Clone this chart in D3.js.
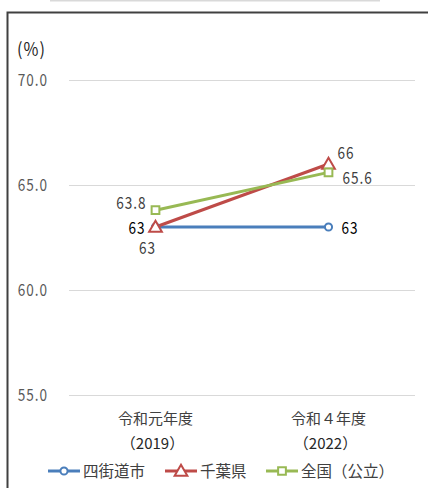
<!DOCTYPE html>
<html><head><meta charset="utf-8">
<script src="https://cdn.jsdelivr.net/npm/d3@7"></script>
<style>
body{margin:0;background:#fff;}
svg{display:block;font-family:"Noto Sans CJK JP","Noto Sans",sans-serif;}
</style></head>
<body><svg id="c" width="428" height="488"></svg>
<script>
const categories = ["令和元年度", "令和４年度"];
const categoryYears = ["（2019）", "（2022）"];
const seriesNames = ["四街道市", "千葉県", "全国（公立）"];
const yotsukaido = [63, 63];
const chiba = [63, 66];
const zenkoku = [63.8, 65.6];
const yTicks = [55, 60, 65, 70];
const yTickLabels = ["55.0", "60.0", "65.0", "70.0"];
const dataLabels = [["63", "63"], ["63", "66"], ["63.8", "65.6"]];

const colors = ["#4A7EBB", "#BE4B48", "#98B954"];
const svg = d3.select("#c");

// condensed text helper
function ctext(t, xx, yy, anchor, fill, size, sx){
  const g = svg.append("g").attr("transform",`translate(${xx},${yy}) scale(${sx||0.8},1)`);
  g.append("text").attr("text-anchor",anchor).attr("font-size",size||17).attr("fill",fill)
   .attr("letter-spacing","1.2").text(t);
  return g;
}

// frame
svg.append("line").attr("x1",50).attr("x2",380).attr("y1",0.5).attr("y2",0.5).attr("stroke","#d9d9d9").attr("stroke-width",2);
svg.append("path").attr("d","M7.5,488 V12.5 H428").attr("fill","none").attr("stroke","#404040").attr("stroke-width",2);

const x = d3.scaleBand().domain(categories).range([69, 415]);
const y = d3.scaleLinear().domain([55, 70]).range([395, 80]);
const cx = c => x(c) + x.bandwidth()/2;

// grid
svg.append("g").selectAll("line").data(yTicks).join("line")
  .attr("x1",69).attr("x2",415).attr("y1",d=>Math.round(y(d))+0.5).attr("y2",d=>Math.round(y(d))+0.5)
  .attr("stroke","#d9d9d9").attr("stroke-width",1);
yTicks.forEach((d,i)=>ctext(yTickLabels[i], 48, y(d)+6, "end", "#595959"));
ctext("(%)", 17, 56, "start", "#262626", 18, 0.9);

// x labels
categories.forEach((c,i)=>{
  svg.append("text").attr("x",cx(c)).attr("y",424).attr("text-anchor","middle").attr("font-size",15).attr("fill","#404040").text(c);
  svg.append("text").attr("x",cx(c)-3).attr("y",449).attr("text-anchor","middle").attr("font-size",15).attr("fill","#262626").text(categoryYears[i]);
});

const series = [yotsukaido, chiba, zenkoku];
const line = d3.line().x((d,i)=>cx(categories[i])).y(d=>y(d));
const sym = [d3.symbolCircle, d3.symbolTriangle, d3.symbolSquare];
const symSize = [40, 70, 60];

function marker(g, k, px, py){
  g.append("path").attr("d", d3.symbol().type(sym[k]).size(symSize[k])())
   .attr("transform",`translate(${px},${py + (k===1?1:0)})`)
   .attr("fill","#fff").attr("stroke",colors[k]).attr("stroke-width",2);
}

series.forEach((s,k)=>{
  svg.append("path").datum(s).attr("d",line).attr("fill","none").attr("stroke",colors[k]).attr("stroke-width",3);
});
series.forEach((s,k)=>{
  s.forEach((v,i)=>marker(svg,k,cx(categories[i]),y(v)));
});

// data labels
const c0 = cx(categories[0]), c1 = cx(categories[1]);
ctext(dataLabels[0][0], c0-10, y(yotsukaido[0])+7, "end", "#000");
ctext(dataLabels[0][1], c1+13, y(yotsukaido[1])+7, "start", "#000");
ctext(dataLabels[1][0], c0-8, y(chiba[0])+27, "middle", "#404040");
ctext(dataLabels[1][1], c1+9, y(chiba[1])-5, "start", "#404040");
ctext(dataLabels[2][0], c0-9, y(zenkoku[0])-1, "end", "#404040");
ctext(dataLabels[2][1], c1+14, y(zenkoku[1])+12, "start", "#404040");

// legend
const legX = [48, 165, 266];
seriesNames.forEach((n,k)=>{
  const lx = legX[k], ly = 471;
  svg.append("line").attr("x1",lx).attr("x2",lx+32).attr("y1",ly).attr("y2",ly).attr("stroke",colors[k]).attr("stroke-width",3);
  marker(svg,k,lx+16,ly);
  svg.append("text").attr("x",lx+35).attr("y",ly+6).attr("font-size",15.5).attr("fill","#404040").text(n);
});
</script></body></html>
